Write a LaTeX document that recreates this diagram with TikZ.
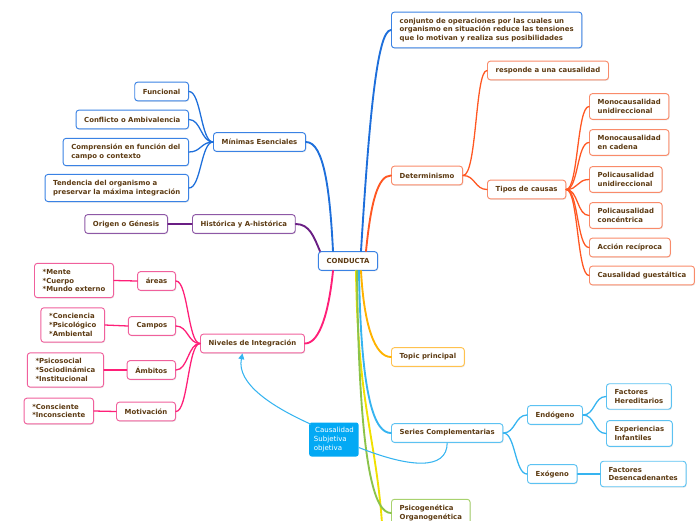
\documentclass[tikz,border=0pt]{standalone}
\usepackage{fontspec}
\setsansfont{DejaVu Sans}
\usetikzlibrary{arrows.meta,calc,positioning,shadows}
\definecolor{MapInk}{HTML}{5C3A12}
\definecolor{MapBlue}{HTML}{1E6FDB}
\definecolor{MapBlueEdge}{HTML}{3A82E4}
\definecolor{MapOrange}{HTML}{FF5722}
\definecolor{MapOrangeEdge}{HTML}{F98B6A}
\definecolor{MapPurple}{HTML}{6A1E84}
\definecolor{MapPurpleEdge}{HTML}{8E58A6}
\definecolor{MapPink}{HTML}{FF1F78}
\definecolor{MapPinkEdge}{HTML}{F0609C}
\definecolor{MapAmber}{HTML}{FFB300}
\definecolor{MapAmberEdge}{HTML}{FFC24F}
\definecolor{MapSky}{HTML}{36B4F0}
\definecolor{MapSkyEdge}{HTML}{5CC2F2}
\definecolor{MapGreen}{HTML}{8BC34A}
\definecolor{MapGreenEdge}{HTML}{A8D26E}
\definecolor{MapYellow}{HTML}{F0E000}
\definecolor{MapNote}{HTML}{03A9F4}
\tikzset{
  every node/.style={font=\sffamily\bfseries\fontsize{5.9}{7.4}\selectfont, text=MapInk},
  topicbox/.style={draw=#1, line width=0.8pt, fill=white, rounded corners=2.5pt, align=left,
    inner xsep=7pt, inner ysep=5pt, minimum height=16pt,
    drop shadow={opacity=0.18, shadow xshift=0.6pt, shadow yshift=-0.8pt}},
  notebox/.style={fill=MapNote, rounded corners=2pt, align=left, text=white,
    font=\sffamily\fontsize{6}{7.6}\selectfont, inner xsep=4pt, inner ysep=4pt},
  branch/.style={draw=#1, line width=1.6pt, line cap=round},
  twig/.style={draw=#1, line width=1.1pt, line cap=round},
  relation/.style={-{Triangle[length=5pt,width=5pt]}, draw=MapSky, line width=0.9pt},
}

\begin{document}
\begin{tikzpicture}[x=0.03cm, y=-0.03cm]
  \useasboundingbox (0,0) rectangle (696,520);
  % centre
  \node[topicbox=MapBlueEdge] (conducta) at (348,261) {CONDUCTA};
  % right side, upper
  \node[topicbox=MapBlueEdge, anchor=west] (def) at (391,30)
    {conjunto de operaciones por las cuales un\\organismo en situación reduce las tensiones\\que lo motivan y realiza sus posibilidades};
  \node[topicbox=MapOrangeEdge, anchor=west] (determ) at (391,175.5) {Determinismo};
  \node[topicbox=MapOrangeEdge, anchor=west] (responde) at (487,70.5) {responde a una causalidad};
  \node[topicbox=MapOrangeEdge, anchor=west] (tipos) at (487,189.5) {Tipos de causas};
  \node[topicbox=MapOrangeEdge, anchor=west] (mono1) at (589,106.5) {Monocausalidad\\unidireccional};
  \node[topicbox=MapOrangeEdge, anchor=west] (mono2) at (589,142.5) {Monocausalidad\\en cadena};
  \node[topicbox=MapOrangeEdge, anchor=west] (poli1) at (589,179.5) {Policausalidad\\unidireccional};
  \node[topicbox=MapOrangeEdge, anchor=west] (poli2) at (589,215.5) {Policausalidad\\concéntrica};
  \node[topicbox=MapOrangeEdge, anchor=west] (accion) at (589,247.5) {Acción recíproca};
  \node[topicbox=MapOrangeEdge, anchor=west] (gestalt) at (589,275.5) {Causalidad guestáltica};
  % right side, lower
  \node[topicbox=MapAmberEdge, anchor=west] (topic) at (391,357) {Topic principal};
  \node[topicbox=MapSkyEdge, anchor=west] (series) at (391,433) {Series Complementarias};
  \node[topicbox=MapSkyEdge, anchor=west] (endo) at (527,415) {Endógeno};
  \node[topicbox=MapSkyEdge, anchor=west] (exo) at (527,474) {Exógeno};
  \node[topicbox=MapSkyEdge, anchor=west] (hered) at (606,396.5) {Factores\\Hereditarios};
  \node[topicbox=MapSkyEdge, anchor=west] (infant) at (606,433.5) {Experiencias\\Infantiles};
  \node[topicbox=MapSkyEdge, anchor=west] (desenc) at (600,474) {Factores\\Desencadenantes};
  \node[topicbox=MapGreenEdge, anchor=west] (psico) at (391,513) {Psicogenética\\Organogenética};
  \coordinate (offpage) at (384,560);
  % left side
  \node[topicbox=MapBlueEdge, anchor=west] (minimas) at (213,142) {Mínimas Esenciales};
  \node[topicbox=MapBlueEdge, anchor=east] (funcional) at (189,91.5) {Funcional};
  \node[topicbox=MapBlueEdge, anchor=east] (conflicto) at (189,119.5) {Conflicto o Ambivalencia};
  \node[topicbox=MapBlueEdge, anchor=east] (comprension) at (189,152) {Comprensión en función del\\campo o contexto};
  \node[topicbox=MapBlueEdge, anchor=east] (tendencia) at (189,188) {Tendencia del organismo a\\preservar la máxima integración};
  \node[topicbox=MapPurpleEdge, anchor=west] (historica) at (192,224) {Histórica y A-histórica};
  \node[topicbox=MapPurpleEdge, anchor=east] (origen) at (168,224) {Origen o Génesis};
  \node[topicbox=MapPinkEdge, anchor=west] (niveles) at (200,343.5) {Niveles de Integración};
  \node[topicbox=MapPinkEdge, anchor=east] (areas) at (176,281) {áreas};
  \node[topicbox=MapPinkEdge, anchor=east] (campos) at (176,326) {Campos};
  \node[topicbox=MapPinkEdge, anchor=east] (ambitos) at (176,370) {Ámbitos};
  \node[topicbox=MapPinkEdge, anchor=east] (motivacion) at (176,411.5) {Motivación};
  \node[topicbox=MapPinkEdge, anchor=east] (mente) at (114,280.5) {*Mente\\*Cuerpo\\*Mundo externo};
  \node[topicbox=MapPinkEdge, anchor=east] (conciencia) at (105,325) {*Conciencia\\*Psicológico\\*Ambiental};
  \node[topicbox=MapPinkEdge, anchor=east] (psicosocial) at (104,370) {*Psicosocial\\*Sociodinámica\\*Institucional};
  \node[topicbox=MapPinkEdge, anchor=east] (consciente) at (94,411) {*Consciente\\*Inconsciente};
  % floating note
  \node[notebox, anchor=west] (causal) at (309,439.5) {\,Causalidad\\Subjetiva\\objetiva};

  % main branches
  \draw[branch=MapYellow] ($(conducta.south)+(8,0)$) .. controls +(2,150) and +(-4,-120) .. (offpage);
  \draw[branch=MapGreen] ($(conducta.south)+(9,0)$) .. controls +(2,200) and +(-16,0) .. (psico.west);
  \draw[branch=MapSky] ($(conducta.south)+(11,0)$) .. controls +(2,130) and +(-16,0) .. (series.west);
  \draw[branch=MapAmber] ($(conducta.south)+(13,0)$) .. controls +(3,55) and +(-16,0) .. (topic.west);
  \draw[branch=MapBlue] ($(conducta.north)+(13,0)$) .. controls +(8,-130) and +(-14,0) .. (def.west);
  \draw[branch=MapOrange] ($(conducta.north)+(18,0)$) .. controls +(5,-50) and +(-13,0) .. (determ.west);
  \draw[branch=MapBlue] (minimas.east) .. controls +(18,0) and +(-3,-60) .. ($(conducta.north)+(-15,0)$);
  \draw[branch=MapPurple] (historica.east) .. controls +(14,0) and +(-6,-14) .. ($(conducta.north west)+(2,0)$);
  \draw[branch=MapPink] (niveles.east) .. controls +(15,0) and +(-4,40) .. ($(conducta.south)+(-15,0)$);
  % sub branches
  \draw[twig=MapOrange] (determ.east) .. controls +(14,0) and +(-12,0) .. (responde.west);
  \draw[twig=MapOrange] (determ.east) .. controls +(12,0) and +(-12,0) .. (tipos.west);
  \foreach \kid in {mono1,mono2,poli1,poli2,accion,gestalt}
    \draw[twig=MapOrange] (tipos.east) .. controls +(12,0) and +(-12,0) .. (\kid.west);
  \foreach \kid in {funcional,conflicto,comprension,tendencia}
    \draw[twig=MapBlue] (minimas.west) .. controls +(-12,0) and +(12,0) .. (\kid.east);
  \draw[twig=MapPurple] (historica.west) -- (origen.east);
  \foreach \kid in {areas,campos,ambitos,motivacion}
    \draw[twig=MapPink] (niveles.west) .. controls +(-12,0) and +(12,0) .. (\kid.east);
  \draw[twig=MapPink] (areas.west) -- (mente.east);
  \draw[twig=MapPink] (campos.west) -- (conciencia.east);
  \draw[twig=MapPink] (ambitos.west) -- (psicosocial.east);
  \draw[twig=MapPink] (motivacion.west) -- (consciente.east);
  \draw[twig=MapSky] (series.east) .. controls +(12,0) and +(-12,0) .. (endo.west);
  \draw[twig=MapSky] (series.east) .. controls +(12,0) and +(-12,0) .. (exo.west);
  \draw[twig=MapSky] (endo.east) .. controls +(12,0) and +(-12,0) .. (hered.west);
  \draw[twig=MapSky] (endo.east) .. controls +(12,0) and +(-12,0) .. (infant.west);
  \draw[twig=MapSky] (exo.east) -- (desenc.west);
  % note links
  \draw[MapSky, line width=0.9pt] ($(causal.east)+(0,8)$) .. controls +(50,20) and +(0,28) .. (series.south);
  \draw[relation] ($(causal.north west)+(2,2)$) .. controls +(-40,-18) and +(-6,30) .. ($(niveles.south)+(-10,0)$);
\end{tikzpicture}
\end{document}
